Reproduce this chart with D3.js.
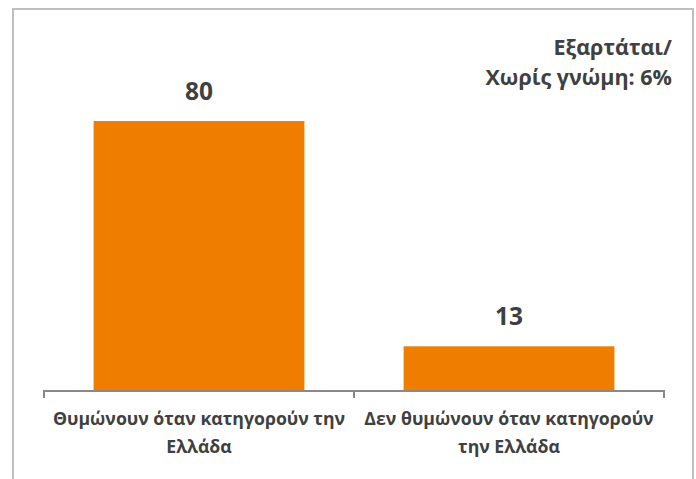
<!DOCTYPE html>
<html>
<head>
<meta charset="utf-8">
<script src="https://cdn.jsdelivr.net/npm/d3@7"></script>
<style>
  html, body { margin: 0; padding: 0; background: #fff; }
  svg { display: block; }
  text { font-family: "Open Sans", "Noto Sans", sans-serif; font-weight: bold; fill: #404040; }
</style>
</head>
<body>
<svg id="chart" width="696" height="479"></svg>
<script>
const categories = [
  ["Θυμώνουν όταν κατηγορούν την", "Ελλάδα"],
  ["Δεν θυμώνουν όταν κατηγορούν", "την Ελλάδα"]
];
const values = [80, 13];
const noteLines = ["Εξαρτάται/", "Χωρίς γνώμη: 6%"];

const svg = d3.select("#chart");

// frame
svg.append("rect")
  .attr("x", 13).attr("y", 9).attr("width", 680).attr("height", 480)
  .attr("fill", "none").attr("stroke", "#bfbfbf").attr("stroke-width", 2);

const idx = d3.range(values.length);
const x = d3.scaleBand().domain(idx).range([44, 664]).paddingInner(0.32).paddingOuter(0.16);
const y = d3.scaleLinear().domain([0, 90]).range([390, 87.4]);

svg.selectAll("rect.bar").data(idx).join("rect")
  .attr("class", "bar")
  .attr("x", i => x(i))
  .attr("y", i => y(values[i]))
  .attr("width", x.bandwidth())
  .attr("height", i => y(0) - y(values[i]))
  .attr("fill", "#ef7d00");

svg.selectAll("text.val").data(idx).join("text")
  .attr("class", "val")
  .attr("x", i => x(i) + x.bandwidth() / 2)
  .attr("y", i => y(values[i]) - 21)
  .attr("text-anchor", "middle")
  .style("font-size", "24.5px")
  .text(i => values[i]);

// axis
const axis = d3.axisBottom(x).tickSize(0).tickFormat("");
const gx = svg.append("g").attr("transform", "translate(0,391)").call(axis);
gx.select(".domain").remove();
gx.selectAll(".tick").remove();
const bounds = [44, 354, 664];
gx.append("line").attr("x1", 43).attr("x2", 665).attr("y1", 0).attr("y2", 0)
  .attr("stroke", "#898989").attr("stroke-width", 2);
gx.selectAll("line.sep").data(bounds).join("line")
  .attr("class", "sep")
  .attr("x1", d => d).attr("x2", d => d).attr("y1", 0).attr("y2", 7)
  .attr("stroke", "#898989").attr("stroke-width", 2);

// category labels
const lab = svg.selectAll("text.cat").data(idx).join("text")
  .attr("class", "cat")
  .attr("text-anchor", "middle")
  .style("font-size", "17.7px");
lab.each(function(i) {
  const t = d3.select(this);
  categories[i].forEach((line, k) => {
    t.append("tspan")
      .attr("x", x(i) + x.bandwidth() / 2)
      .attr("y", 425 + k * 27.5)
      .text(line);
  });
});

// note
const note = svg.append("text")
  .attr("text-anchor", "end")
  .style("font-size", "21.5px");
noteLines.forEach((line, k) => {
  note.append("tspan").attr("x", 672).attr("y", 55 + k * 30).text(line);
});
</script>
</body>
</html>
